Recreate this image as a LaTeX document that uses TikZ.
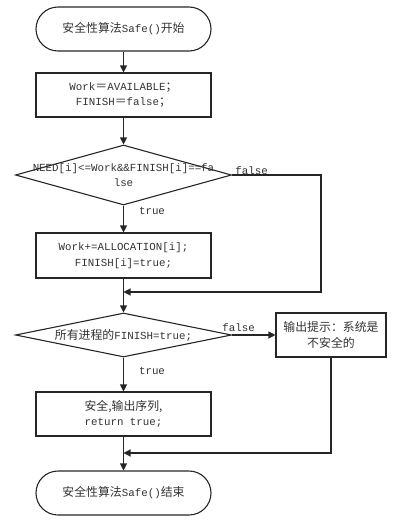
\documentclass[tikz,border=0pt]{standalone}
\usepackage{fontspec}
\usepackage{tikz}
\usetikzlibrary{positioning, arrows.meta, shapes.geometric, calc}
\setmainfont{Liberation Mono}
\newfontfamily\cjk[Scale=1.1]{Noto Sans CJK SC}
\newcommand{\zh}[1]{{\cjk #1}}

\begin{document}
\begin{tikzpicture}[x=1pt, y=-1pt, line width=1.1pt, draw=black!85, text=black!80,
    font=\fontsize{10.8}{15.5}\selectfont,
    term/.style={draw, rounded corners=22pt, minimum width=175pt, minimum height=44pt},
    proc/.style={draw, align=center, minimum width=175pt, minimum height=44pt},
    decision/.style={draw, diamond, inner sep=0pt, minimum width=216pt},
    flow/.style={-{Triangle[length=7pt, width=7pt]}},
    lbl/.style={font=\fontsize{10.8}{13}\selectfont, inner sep=1pt}]
    \useasboundingbox (0,0) rectangle (410,530);
    \node[term] (start) at (123.5,29) {\zh{安全性算法}Safe()\zh{开始}};
    \node[proc] (init) at (123.5,95) {Work\zh{＝}AVAILABLE\zh{；}\\FINISH\zh{＝}false\zh{；}};
    \node[decision, minimum height=60pt] (check) at (123.5,175) {};
    \node[align=center] at (check) {NEED[i]<=Work\&\&FINISH[i]==fa\\lse};
    \node[proc, minimum height=45pt] (update) at (123.5,255.5) {Work+=ALLOCATION[i];\\FINISH[i]=true;};
    \coordinate (j1) at (123.5,292);
    \node[decision, minimum height=44pt] (all) at (123.5,335) {};
    \node at (all) {\zh{所有进程的}FINISH=true;};
    \node[proc, minimum width=110pt] (unsafe) at (331,335) {\zh{输出提示：系统是}\\\zh{不安全的}};
    \node[proc] (safe) at (123.5,414) {\zh{安全,输出序列,}\\return true;};
    \coordinate (j2) at (123.5,453);
    \node[term] (stop) at (123.5,493) {\zh{安全性算法}Safe()\zh{结束}};

    \draw[flow] (start) -- (init);
    \draw[flow] (init) -- (check);
    \draw[flow] (check) -- node[lbl, pos=0.2, right=14pt] {true} (update);
    \draw[flow] (check.east) -- node[lbl, pos=0.02, above right=-1pt and 0pt] {false} (321,175) |- (j1);
    \draw[flow] (update) -- (all);
    \draw[flow] (all.east) -- node[lbl, pos=0.15, above=2pt] {false} (unsafe);
    \draw[flow] (all) -- node[lbl, pos=0.4, right=14pt] {true} (safe);
    \draw[flow] (unsafe.south) |- (j2);
    \draw[flow] (safe) -- (stop);
\end{tikzpicture}
\end{document}
